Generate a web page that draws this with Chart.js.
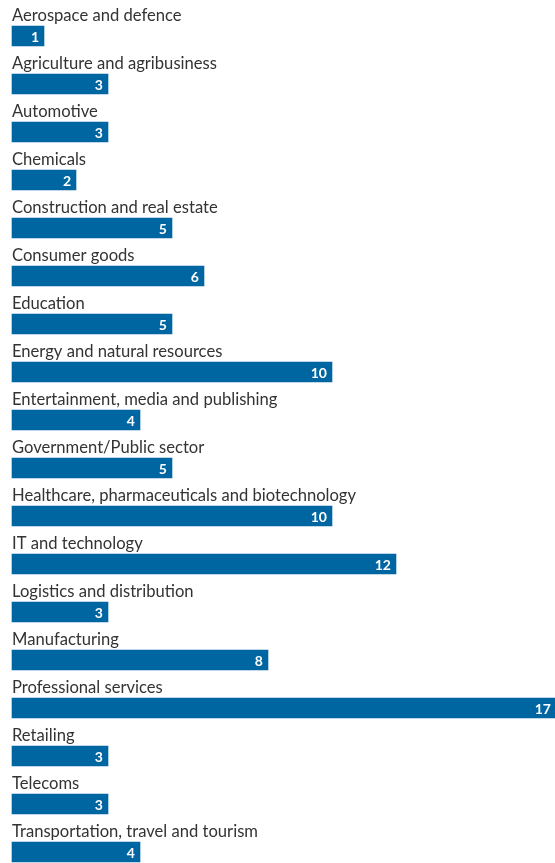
<!DOCTYPE html>
<html>
<head>
<meta charset="utf-8">
<script src="https://cdn.jsdelivr.net/npm/chart.js@4/dist/chart.umd.min.js"></script>
<style>
  html, body { margin: 0; padding: 0; background: #fff; }
  #wrap { width: 555px; height: 863px; position: relative; }
</style>
</head>
<body>
<div id="wrap"><canvas id="sectorChart"></canvas></div>
<script>
const sectors = [
  "Aerospace and defence",
  "Agriculture and agribusiness",
  "Automotive",
  "Chemicals",
  "Construction and real estate",
  "Consumer goods",
  "Education",
  "Energy and natural resources",
  "Entertainment, media and publishing",
  "Government/Public sector",
  "Healthcare, pharmaceuticals and biotechnology",
  "IT and technology",
  "Logistics and distribution",
  "Manufacturing",
  "Professional services",
  "Retailing",
  "Telecoms",
  "Transportation, travel and tourism"
];
const counts = [1, 3, 3, 2, 5, 6, 5, 10, 4, 5, 10, 12, 3, 8, 17, 3, 3, 4];

// white number at the right end of each bar
const barValues = {
  id: "barValues",
  afterDatasetsDraw(chart) {
    const ctx = chart.ctx;
    const meta = chart.getDatasetMeta(0);
    ctx.save();
    ctx.fillStyle = "#fff";
    ctx.font = "bold 14px Lato, sans-serif";
    ctx.textAlign = "right";
    ctx.textBaseline = "middle";
    meta.data.forEach((bar, i) => {
      ctx.fillText(counts[i], bar.x - 5, bar.y + 1);
    });
    ctx.restore();
  }
};

new Chart(document.getElementById("sectorChart"), {
  type: "bar",
  data: {
    labels: sectors,
    datasets: [{
      data: counts,
      backgroundColor: "#0066a1",
      barThickness: 20,
      clip: false
    }]
  },
  options: {
    indexAxis: "y",
    responsive: true,
    maintainAspectRatio: false,
    animation: false,
    layout: { padding: { top: 36, bottom: 11, left: 12, right: 0 } },
    plugins: {
      legend: { display: false },
      tooltip: { enabled: false }
    },
    scales: {
      x: { display: false, min: 0, max: 16.97 },
      y: {
        offset: false,
        grid: { display: false },
        border: { display: false },
        afterFit(scale) { scale.width = 0; },
        ticks: {
          mirror: true,
          padding: 0,
          labelOffset: -20,
          color: "#333",
          font: { family: "Lato", size: 16.6 }
        }
      }
    }
  },
  plugins: [barValues]
});
</script>
</body>
</html>
